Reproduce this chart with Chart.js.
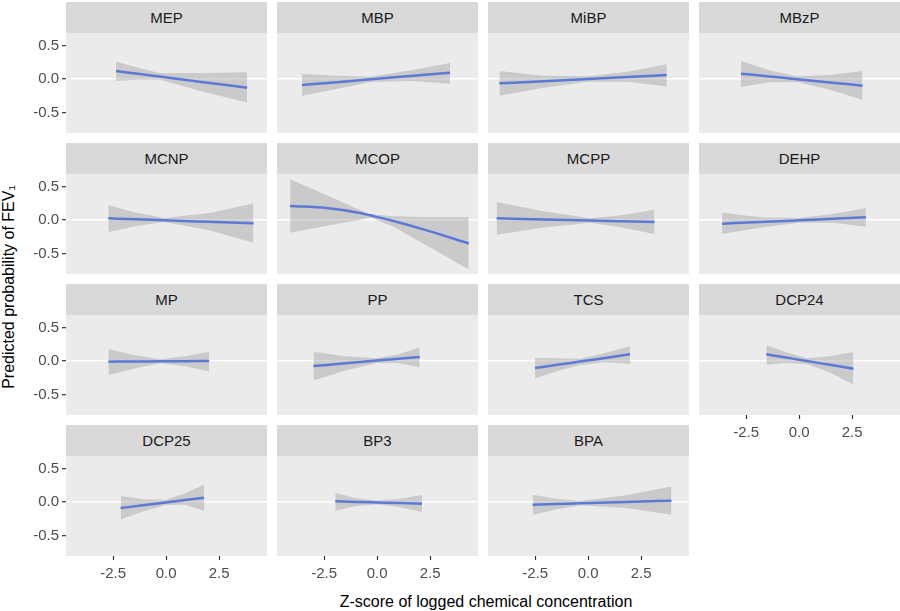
<!DOCTYPE html>
<html>
<head>
<meta charset="utf-8">
<script src="https://cdn.jsdelivr.net/npm/chart.js@4"></script>
<style>
  body { margin: 0; background: #fff; }
  #wrap { position: relative; width: 900px; height: 611px; overflow: hidden; font-family: "Liberation Sans", Arial, sans-serif; }
  .strip { position: absolute; background: #D9D9D9; color: #1A1A1A; font-size: 15px; text-align: center; height: 31px; line-height: 31px; }
  .box { position: absolute; }
  .box canvas { display: block; }
  .ytitle { position: absolute; width: 400px; left: -191px; top: 276px; height: 22px; line-height: 22px; text-align: center; font-size: 16px; color: #000; transform: rotate(-90deg); }
  .xtitle { position: absolute; left: 0; width: 972px; top: 591px; height: 22px; line-height: 22px; text-align: center; font-size: 16px; color: #000; }
</style>
</head>
<body>
<div id="wrap">
  <div class="ytitle">Predicted probability of FEV₁</div>
  <div class="xtitle">Z-score of logged chemical concentration</div>
</div>
<script>
  var panelNames = ["MEP", "MBP", "MiBP", "MBzP", "MCNP", "MCOP", "MCPP", "DEHP",
                    "MP", "PP", "TCS", "DCP24", "DCP25", "BP3", "BPA"];
  var xTicks = [-2.5, 0, 2.5];
  var yTicks = [-0.5, 0, 0.5];

  // x positions, fitted value, lower and upper band per panel
  var xVals = [
    [-2.36, -1.33, -0.3, 1.76, 3.82],
    [-3.54, -1.9, -0.3, 1.6, 3.44],
    [-4.18, -2.1, 0, 1.85, 3.71],
    [-2.74, -1.4, -0.1, 1.45, 2.99],
    [-2.72, -1.4, -0.1, 2.0, 4.12],
    [-4.1, -2.37, -0.8, -0.33, 0.77, 2.34, 4.32],
    [-4.31, -2.1, 0.1, 1.6, 3.13],
    [-3.63, -1.8, 0, 1.6, 3.15],
    [-2.72, -1.5, -0.28, 0.9, 2.03],
    [-3.0, -1.5, 0, 1.0, 2.01],
    [-2.5, -1.45, -0.38, 0.8, 1.98],
    [-1.54, -0.6, 0.36, 1.45, 2.56],
    [-2.14, -1.1, 0, 0.9, 1.79],
    [-1.97, -1.0, 0.05, 1.1, 2.12],
    [-2.61, -1.5, -0.38, 1.8, 3.93]
  ];
  var fitVals = [
    [0.12, 0.078, 0.037, -0.047, -0.13],
    [-0.09, -0.047, -0.004, 0.046, 0.094],
    [-0.065, -0.032, 0.001, 0.03, 0.06],
    [0.08, 0.038, -0.003, -0.051, -0.10],
    [0.025, 0.011, -0.004, -0.027, -0.05],
    [0.21, 0.18, 0.105, 0.07, -0.015, -0.155, -0.35],
    [0.025, 0.009, -0.008, -0.019, -0.03],
    [-0.055, -0.029, -0.004, 0.018, 0.04],
    [-0.01, -0.007, -0.005, -0.002, 0.0],
    [-0.075, -0.035, 0.006, 0.033, 0.06],
    [-0.105, -0.057, -0.008, 0.046, 0.1],
    [0.1, 0.051, 0.0, -0.057, -0.115],
    [-0.09, -0.049, -0.006, 0.029, 0.065],
    [0.01, 0.002, -0.007, -0.016, -0.025],
    [-0.04, -0.03, -0.02, 0.0, 0.02]
  ];
  var loVals = [
    [-0.03, -0.01, -0.01, -0.19, -0.35],
    [-0.25, -0.15, -0.045, -0.03, -0.07],
    [-0.25, -0.13, -0.04, -0.04, -0.11],
    [-0.12, -0.05, -0.045, -0.16, -0.31],
    [-0.18, -0.09, -0.03, -0.15, -0.34],
    [-0.19, -0.085, 0.0, 0.04, -0.1, -0.38, -0.74],
    [-0.22, -0.11, -0.04, -0.11, -0.21],
    [-0.21, -0.11, -0.04, -0.04, -0.1],
    [-0.21, -0.11, -0.035, -0.08, -0.155],
    [-0.29, -0.14, -0.03, -0.03, -0.095],
    [-0.26, -0.15, -0.06, -0.02, -0.04],
    [-0.055, -0.03, -0.045, -0.17, -0.35],
    [-0.26, -0.14, -0.045, -0.04, -0.13],
    [-0.13, -0.06, -0.035, -0.08, -0.15],
    [-0.19, -0.11, -0.05, -0.09, -0.19]
  ];
  var hiVals = [
    [0.26, 0.17, 0.09, 0.09, 0.10],
    [0.075, 0.05, 0.035, 0.13, 0.24],
    [0.12, 0.05, 0.04, 0.11, 0.22],
    [0.27, 0.13, 0.04, 0.06, 0.12],
    [0.22, 0.11, 0.03, 0.1, 0.245],
    [0.61, 0.37, 0.15, 0.09, 0.055, 0.045, 0.045],
    [0.27, 0.13, 0.025, 0.07, 0.155],
    [0.11, 0.04, 0.03, 0.09, 0.18],
    [0.18, 0.09, 0.025, 0.07, 0.14],
    [0.14, 0.07, 0.04, 0.1, 0.2],
    [0.045, 0.04, 0.035, 0.12, 0.22],
    [0.235, 0.13, 0.04, 0.07, 0.135],
    [0.09, 0.04, 0.035, 0.13, 0.26],
    [0.135, 0.06, 0.02, 0.05, 0.105],
    [0.11, 0.05, 0.015, 0.1, 0.23]
  ];

  var colLeft = [66, 277, 488, 699];
  var stripTop = [2, 143, 284, 425];
  var PW = 201, SH = 31, PH = 100, YAX = 40, XAX = 28;

  var panelBg = {
    id: "panelBg",
    beforeDraw: function(chart) {
      var a = chart.chartArea;
      var c = chart.ctx;
      c.save();
      c.fillStyle = "#EBEBEB";
      c.fillRect(a.left, a.top, a.right - a.left, a.bottom - a.top);
      c.restore();
    }
  };

  function pts(xs, ys) {
    return xs.map(function(x, i) { return { x: x, y: ys[i] }; });
  }

  var wrap = document.getElementById("wrap");

  panelNames.forEach(function(name, i) {
    var col = i % 4, row = Math.floor(i / 4);
    var showY = col === 0;
    var showX = i + 4 >= panelNames.length;

    var strip = document.createElement("div");
    strip.className = "strip";
    strip.style.left = colLeft[col] + "px";
    strip.style.top = stripTop[row] + "px";
    strip.style.width = PW + "px";
    strip.textContent = name;
    wrap.appendChild(strip);

    var box = document.createElement("div");
    box.className = "box";
    box.style.left = (colLeft[col] - (showY ? YAX : 0)) + "px";
    box.style.top = (stripTop[row] + SH) + "px";
    box.style.width = (PW + (showY ? YAX : 0)) + "px";
    box.style.height = (PH + (showX ? XAX : 0)) + "px";
    var cv = document.createElement("canvas");
    box.appendChild(cv);
    wrap.appendChild(box);

    new Chart(cv, {
      type: "line",
      data: {
        datasets: [
          { data: pts(xVals[i], hiVals[i]), borderWidth: 0, borderColor: "rgba(0,0,0,0)", pointRadius: 0,
            fill: "+1", backgroundColor: "rgba(153,153,153,0.4)", tension: 0 },
          { data: pts(xVals[i], loVals[i]), borderWidth: 0, borderColor: "rgba(0,0,0,0)", pointRadius: 0,
            fill: false, tension: 0 },
          { data: pts(xVals[i], fitVals[i]), borderColor: "#3366FF", borderWidth: 2.5, pointRadius: 0,
            fill: false, cubicInterpolationMode: "monotone" }
        ]
      },
      options: {
        responsive: true,
        maintainAspectRatio: false,
        animation: false,
        layout: { padding: 0, autoPadding: false },
        plugins: { legend: { display: false }, tooltip: { enabled: false } },
        scales: {
          x: {
            type: "linear",
            min: -4.72, max: 4.76,
            display: showX,
            afterBuildTicks: function(s) { s.ticks = xTicks.map(function(v) { return { value: v }; }); },
            afterFit: function(s) { s.height = showX ? XAX : 0; s.paddingLeft = 0; s.paddingRight = 0; },
            border: { display: false },
            grid: { drawOnChartArea: false, tickLength: 4, tickColor: "#333333", tickWidth: 1.2 },
            ticks: { padding: 5, color: "#4D4D4D", font: { size: 15 }, maxRotation: 0,
                     callback: function(v) { return v.toFixed(1); } }
          },
          y: {
            type: "linear",
            min: -0.806, max: 0.687,
            afterBuildTicks: function(s) { s.ticks = yTicks.map(function(v) { return { value: v }; }); },
            afterFit: function(s) { s.width = showY ? YAX : 0; s.paddingTop = 0; s.paddingBottom = 0; },
            border: { display: false },
            grid: {
              color: function(c) { return c.tick && c.tick.value === 0 ? "#FFFFFF" : "rgba(0,0,0,0)"; },
              lineWidth: 1.4,
              drawTicks: showY, tickLength: 4, tickColor: "#333333", tickWidth: 1.2
            },
            ticks: { display: showY, padding: 3, color: "#4D4D4D", font: { size: 15 },
                     callback: function(v) { return v.toFixed(1); } }
          }
        }
      },
      plugins: [panelBg]
    });
  });
</script>
</body>
</html>
